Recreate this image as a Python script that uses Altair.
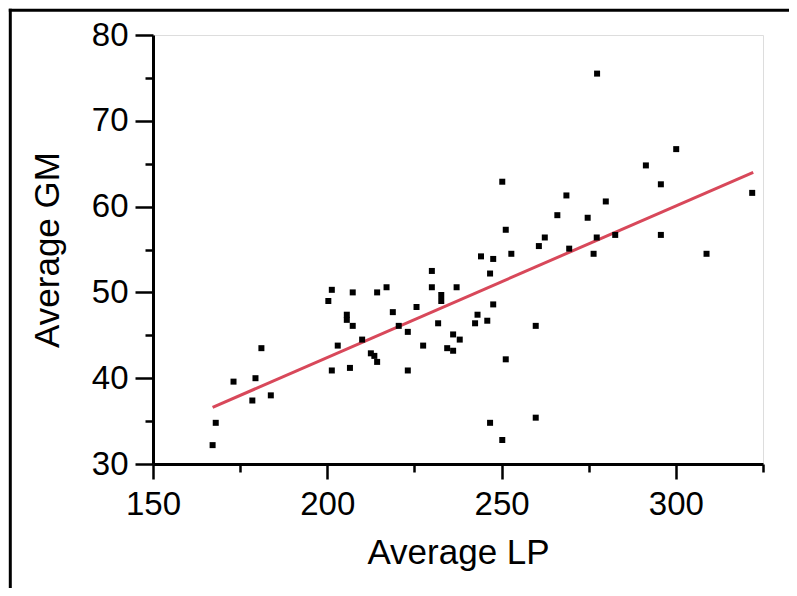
import altair as alt
import pandas as pd

lp = [167.1, 168.0, 173.1, 178.5, 179.4, 181.1, 183.8, 200.3, 201.3, 201.3,
      203.0, 205.6, 205.6, 206.5, 207.3, 207.3, 210.0, 212.5, 213.5, 214.3,
      214.3, 217.0, 218.8, 220.5, 223.1, 223.1, 225.6, 227.5, 230.0, 230.0,
      232.7, 232.7, 231.8, 236.1, 234.4, 236.1, 237.1, 238.0, 242.4, 243.1,
      245.9, 247.6, 244.1, 247.6, 246.7, 251.2, 252.8, 260.7, 262.4, 269.4,
      276.4, 277.3, 282.6, 295.7, 308.8, 259.8, 251.2, 246.7, 250.2, 259.8,
      277.4, 300.1, 291.4, 250.2, 295.7, 321.9, 268.6, 279.9, 266.0, 274.7]
gm = [32.2, 34.8, 39.6, 37.4, 40.0, 43.5, 38.0, 49.0, 50.3, 40.9,
      43.8, 47.4, 46.8, 41.2, 50.0, 46.1, 44.5, 42.9, 42.6, 41.9,
      50.0, 50.6, 47.7, 46.1, 45.4, 40.9, 48.3, 43.8, 52.5, 50.6,
      49.7, 49.0, 46.4, 45.1, 43.5, 43.2, 50.6, 44.5, 46.4, 47.4,
      46.7, 48.6, 54.2, 53.9, 52.2, 57.3, 54.5, 55.4, 56.4, 55.1,
      54.5, 56.4, 56.7, 56.7, 54.5, 46.1, 42.2, 34.8, 32.8, 35.4,
      75.5, 66.7, 64.8, 62.9, 62.6, 61.6, 61.3, 60.6, 59.0, 58.7]

fit_lp = [167.1, 322.2]
fit_gm = [36.6, 64.0]

x_major = [150, 200, 250, 300]
x_minor = [175, 225, 275, 325]
y_major = [30, 40, 50, 60, 70, 80]
y_minor = [35, 45, 55, 65, 75]

pts = pd.DataFrame({"lp": lp, "gm": gm})
fit = pd.DataFrame({"lp": fit_lp, "gm": fit_gm})

FONT = "Liberation Sans"
xs = alt.Scale(domain=[150, 325], nice=False, zero=False)
ys = alt.Scale(domain=[30, 80], nice=False, zero=False)

points = alt.Chart(pts).mark_square(size=36, color="black", opacity=1).encode(
    x=alt.X("lp:Q", scale=xs, title="Average LP",
            axis=alt.Axis(values=x_major, orient="bottom", tickSize=15, tickWidth=2.5,
                          tickColor="black", domainColor="black", domainWidth=3,
                          labelFont=FONT, labelFontSize=33, labelColor="black",
                          labelPadding=9, titleFont=FONT, titleFontSize=35,
                          titleFontWeight="normal", titleColor="black", titlePadding=14,
                          grid=False, labelFlush=False)),
    y=alt.Y("gm:Q", scale=ys, title="Average GM",
            axis=alt.Axis(values=y_major, orient="left", tickSize=18, tickWidth=2.5,
                          tickColor="black", domainColor="black", domainWidth=3,
                          labelFont=FONT, labelFontSize=33, labelColor="black",
                          labelPadding=7, titleFont=FONT, titleFontSize=35,
                          titleFontWeight="normal", titleColor="black", titlePadding=26,
                          grid=False, labelFlush=False)),
)

line = alt.Chart(fit).mark_line(color="#d8485a", strokeWidth=3).encode(
    x=alt.X("lp:Q", scale=xs,
            axis=alt.Axis(values=x_minor, tickSize=8, tickWidth=2.5, tickColor="black",
                          domain=False, labels=False, title=None, grid=False, orient="bottom")),
    y=alt.Y("gm:Q", scale=ys,
            axis=alt.Axis(values=y_minor, tickSize=8, tickWidth=2.5, tickColor="black",
                          domain=False, labels=False, title=None, grid=False, orient="left")),
)

anchor = pd.DataFrame({"a": [0]})
frame_top = alt.Chart(anchor).mark_rule(color="black", strokeWidth=3).encode(
    x=alt.value(-144.2), x2=alt.value(700), y=alt.value(-24.7)
)
frame_left = alt.Chart(anchor).mark_rule(color="black", strokeWidth=3).encode(
    x=alt.value(-142.7), y=alt.value(-26.2), y2=alt.value(700)
)

chart = alt.layer(frame_top, frame_left, line, points).resolve_axis(
    x="independent", y="independent"
).properties(
    width=610, height=429,
    padding={"left": 145, "top": 27, "right": 26, "bottom": 124},
    autosize=alt.AutoSizeParams(type="none"),
).configure_view(stroke="black", strokeWidth=3).configure(background="white")

chart.save("out.html", embed_options={"renderer": "svg", "actions": False})
